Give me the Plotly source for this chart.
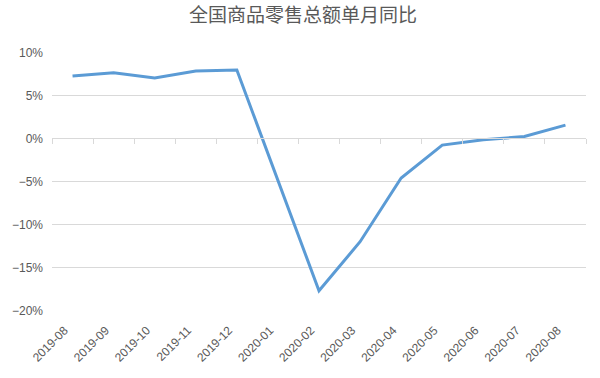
import plotly.graph_objects as go

months = ["2019-08", "2019-09", "2019-10", "2019-11", "2019-12", "2020-01", "2020-02",
          "2020-03", "2020-04", "2020-05", "2020-06", "2020-07", "2020-08"]
yoy = [7.26, 7.64, 7.03, 7.84, 7.95, None, -17.7, -12.0, -4.6, -0.77, -0.15, 0.23, 1.55]
y_ticks = [10, 5, 0, -5, -10, -15, -20]
y_labels = ["10%", "5%", "0%", "\u22125%", "\u221210%", "\u221215%", "\u221220%"]

title = "全国商品零售总额单月同比"
ymin, ymax = -20, 10

fig = go.Figure()
fig.add_trace(go.Scatter(x=months, y=yoy, mode="lines", connectgaps=True,
                         line=dict(color="#5B9BD5", width=3), xaxis="x", yaxis="y",
                         hoverinfo="x+y"))
# dummy invisible trace for zero-crossing category axis
fig.add_trace(go.Scatter(x=months, y=[None] * len(months), mode="lines",
                         xaxis="x2", yaxis="y", showlegend=False, hoverinfo="skip"))

zero_pos = (0 - ymin) / (ymax - ymin)

fig.update_layout(
    width=600, height=378,
    margin=dict(l=48, r=14, t=52, b=67),
    paper_bgcolor="white", plot_bgcolor="white",
    showlegend=False,
    title=dict(text=title, x=0.505, xanchor="center", y=0.96, yanchor="middle",
               font=dict(family="Noto Sans CJK SC", size=19, color="#595959")),
    xaxis=dict(type="category", categoryorder="array", categoryarray=months,
               range=[-0.5, len(months) - 0.5], showgrid=False, zeroline=False,
               showline=False, ticks="", tickangle=-45,
               ticklabelstandoff=9, ticklabelshift=-8,
               tickfont=dict(family="Liberation Sans", size=12, color="#595959")),
    xaxis2=dict(type="category", categoryorder="array", categoryarray=months,
                overlaying="x", anchor="free", position=zero_pos,
                range=[-0.5, len(months) - 0.5], showgrid=False, zeroline=False,
                showline=True, linecolor="#D9D9D9", linewidth=1,
                ticks="outside", tickson="boundaries", ticklen=5, tickcolor="#D9D9D9",
                showticklabels=False),
    yaxis=dict(range=[ymin - 0.05, ymax + 0.05], tickvals=y_ticks, ticktext=y_labels,
               showgrid=True, gridcolor="#D9D9D9", gridwidth=1, zeroline=False,
               showline=False, ticks="", ticklabelstandoff=8,
               tickfont=dict(family="Liberation Sans", size=12, color="#595959")),
)

fig.write_html("out.html")
